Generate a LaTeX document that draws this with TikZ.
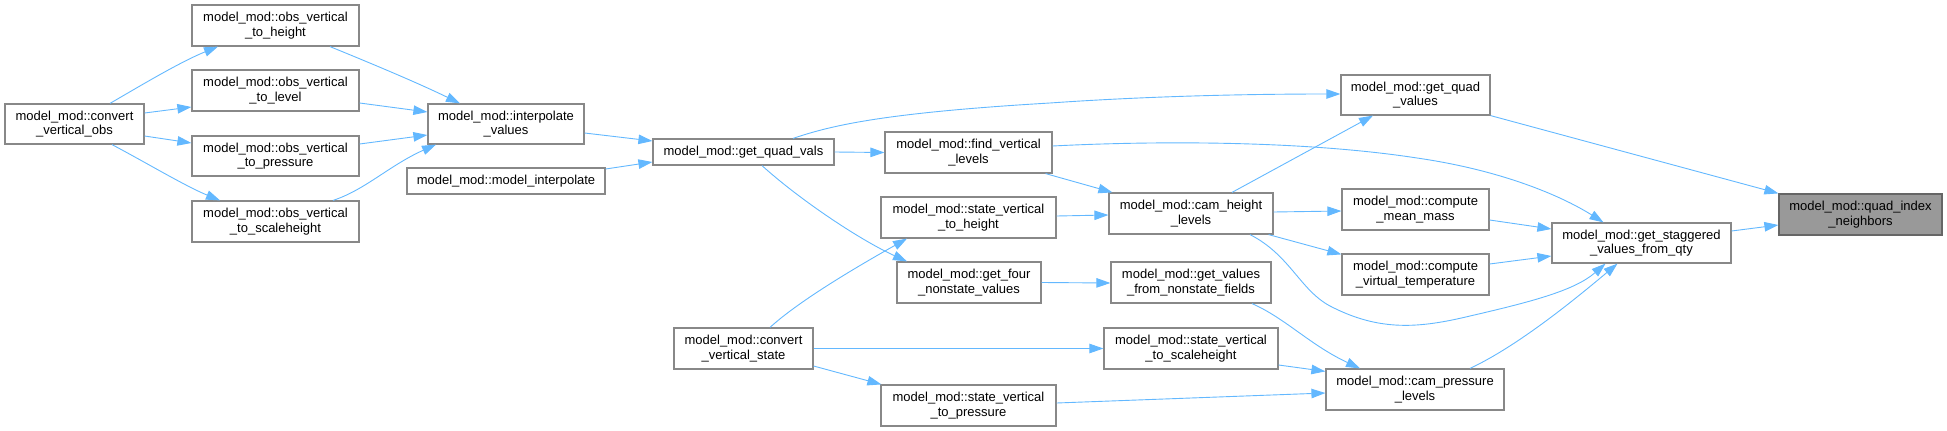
\documentclass[tikz,border=0pt]{standalone}
\usepackage{fontspec}
\setmainfont{Liberation Sans}
\usetikzlibrary{arrows.meta,calc}
\definecolor{edgeblue}{HTML}{63B8FF}
\definecolor{boxline}{HTML}{888888}
\definecolor{hlfill}{HTML}{999999}
\definecolor{hlline}{HTML}{666666}
\begin{document}
\begin{tikzpicture}[x=1pt,y=-1pt,
  fn/.style={draw=boxline,line width=1.2pt,fill=white,inner sep=0pt,align=center,
    font=\fontsize{13}{14.7}\selectfont,minimum height=41pt},
  hl/.style={fn,fill=hlfill,draw=hlline},
  edge/.style={draw=edgeblue,line width=0.9pt,-{Triangle[length=14pt,width=9.5pt]}}]
\useasboundingbox (0,0) rectangle (1947,431);
% nodes
\node[fn,minimum width=139pt,minimum height=40pt] (cvo) at (74.5,124) {model\_mod::convert\\\_vertical\_obs};
\node[fn,minimum width=167pt] (ovh) at (275.5,25.5) {model\_mod::obs\_vertical\\\_to\_height};
\node[fn,minimum width=167pt] (ovl) at (275.5,90.5) {model\_mod::obs\_vertical\\\_to\_level};
\node[fn,minimum width=167pt,minimum height=40pt] (ovp) at (275.5,156) {model\_mod::obs\_vertical\\\_to\_pressure};
\node[fn,minimum width=167pt] (ovs) at (275.5,221.5) {model\_mod::obs\_vertical\\\_to\_scaleheight};
\node[fn,minimum width=156pt,minimum height=40pt] (iv) at (506,124) {model\_mod::interpolate\\\_values};
\node[fn,minimum width=198pt,minimum height=26pt] (mi) at (506,181) {model\_mod::model\_interpolate};
\node[fn,minimum width=181pt,minimum height=26pt] (gqv) at (743.5,152) {model\_mod::get\_quad\_vals};
\node[fn,minimum width=167pt] (fvl) at (968.5,152.5) {model\_mod::find\_vertical\\\_levels};
\node[fn,minimum width=175pt] (svh) at (968.5,217.5) {model\_mod::state\_vertical\\\_to\_height};
\node[fn,minimum width=144pt] (gfn) at (969,282.5) {model\_mod::get\_four\\\_nonstate\_values};
\node[fn,minimum width=139pt] (cvs) at (743.5,348.5) {model\_mod::convert\\\_vertical\_state};
\node[fn,minimum width=175pt] (svp) at (968.5,405.5) {model\_mod::state\_vertical\\\_to\_pressure};
\node[fn,minimum width=149pt,minimum height=40pt] (gqvs) at (1415.5,95) {model\_mod::get\_quad\\\_values};
\node[fn,minimum width=164pt] (chl) at (1191,213.5) {model\_mod::cam\_height\\\_levels};
\node[fn,minimum width=147pt] (cmm) at (1415.5,209.5) {model\_mod::compute\\\_mean\_mass};
\node[fn,minimum width=147pt] (cvt) at (1415.5,274.5) {model\_mod::compute\\\_virtual\_temperature};
\node[fn,minimum width=160pt] (gvn) at (1191,282.5) {model\_mod::get\_values\\\_from\_nonstate\_fields};
\node[fn,minimum width=174pt] (svs) at (1191,348.5) {model\_mod::state\_vertical\\\_to\_scaleheight};
\node[fn,minimum width=178pt] (cpl) at (1415,389.5) {model\_mod::cam\_pressure\\\_levels};
\node[hl,minimum width=163pt] (qin) at (1860.5,214.5) {model\_mod::quad\_index\\\_neighbors};
\node[fn,minimum width=179pt,minimum height=40pt] (gsv) at (1641.5,243) {model\_mod::get\_staggered\\\_values\_from\_qty};
% edges
\draw[edge] ($(cvo.north)+(35.5,0)$) .. controls (140,86) and (180,62) .. ($(ovh.south)+(-57.5,0)$);
\draw[edge] ($(cvo.east)+(0,-11)$) -- ($(ovl.west)+(0,16.5)$);
\draw[edge] ($(cvo.east)+(0,12)$) -- ($(ovp.west)+(0,-13)$);
\draw[edge] ($(cvo.south)+(37.5,0)$) .. controls (145,162) and (185,186) .. ($(ovs.north)+(-55.5,0)$);
\draw[edge] ($(ovh.south)+(54.5,0)$) .. controls (380,67) and (420,84) .. ($(iv.north)+(-46,0)$);
\draw[edge] ($(ovl.east)+(0,12.5)$) -- ($(iv.west)+(0,-12)$);
\draw[edge] ($(ovp.east)+(0,-12)$) -- ($(iv.west)+(0,11)$);
\draw[edge] ($(ovs.north)+(57.5,0)$) .. controls (365,190) and (390,165) .. ($(iv.south)+(-70,0)$);
\draw[edge] ($(iv.east)+(0,9)$) -- ($(gqv.west)+(0,-11)$);
\draw[edge] ($(mi.east)+(0,-12)$) -- ($(gqv.west)+(0,10)$);
\draw[edge] ($(gqv.north)+(49.5,0)$) .. controls (830,126) and (880,113) .. (1050,103) .. controls (1150,96) and (1250,94) .. ($(gqvs.west)+(0,-1)$);
\draw[edge] (gqv.east) -- (fvl.west);
\draw[edge] ($(gqv.south)+(18.5,0)$) .. controls (800,200) and (860,240) .. ($(gfn.north)+(-62,0)$);
\draw[edge] ($(cvs.north)+(26.5,0)$) .. controls (800,300) and (860,265) .. ($(svh.south)+(-61.5,0)$);
\draw[edge] (cvs.east) -- (svs.west);
\draw[edge] ($(cvs.east)+(0,17.5)$) -- ($(svp.north west)+(1,0)$);
\draw[edge] ($(fvl.south east)+(-7,0)$) -- ($(chl.north west)+(4,0)$);
\draw[edge] ($(fvl.east)+(0,-6.5)$) .. controls (1150,141) and (1300,140) .. (1417,158) .. controls (1500,170) and (1560,195) .. ($(gsv.north)+(-38,0)$);
\draw[edge] ($(svh.east)+(0,-1.5)$) -- ($(chl.west)+(0,1.5)$);
\draw[edge] (gfn.east) -- ($(gvn.west)+(0,0.5)$);
\draw[edge] ($(svp.east)+(0,-2.5)$) -- ($(cpl.west)+(0,3.5)$);
\draw[edge] ($(svs.east)+(0,16.5)$) -- ($(cpl.north west)+(0,3)$);
\draw[edge] ($(gvn.south)+(61,0)$) .. controls (1285,318) and (1310,345) .. ($(cpl.north)+(-55,0)$);
\draw[edge] ($(chl.north)+(41,0)$) -- ($(gqvs.south)+(-42.5,0)$);
\draw[edge] ($(chl.east)+(0,-1.5)$) -- ($(cmm.west)+(0,1.5)$);
\draw[edge] ($(chl.south east)+(-5,0)$) -- ($(cvt.north west)+(0,1)$);
\draw[edge] ($(chl.south)+(59,0)$) .. controls (1290,255) and (1300,290) .. (1330,306) .. controls (1380,332) and (1420,328) .. (1470,316) .. controls (1535,301) and (1575,290) .. ($(gsv.south)+(-36,0)$);
\draw[edge] ($(cmm.east)+(0,10.5)$) -- ($(gsv.west)+(0,-14)$);
\draw[edge] ($(cvt.east)+(0,-10.5)$) -- ($(gsv.west)+(0,13)$);
\draw[edge] ($(cpl.north)+(55,0)$) .. controls (1520,345) and (1580,295) .. ($(gsv.south)+(-24,0)$);
\draw[edge] (gqvs.south east) -- (qin.north west);
\draw[edge] ($(gsv.east)+(0,-12)$) -- ($(qin.west)+(0,10.5)$);
\end{tikzpicture}
\end{document}
